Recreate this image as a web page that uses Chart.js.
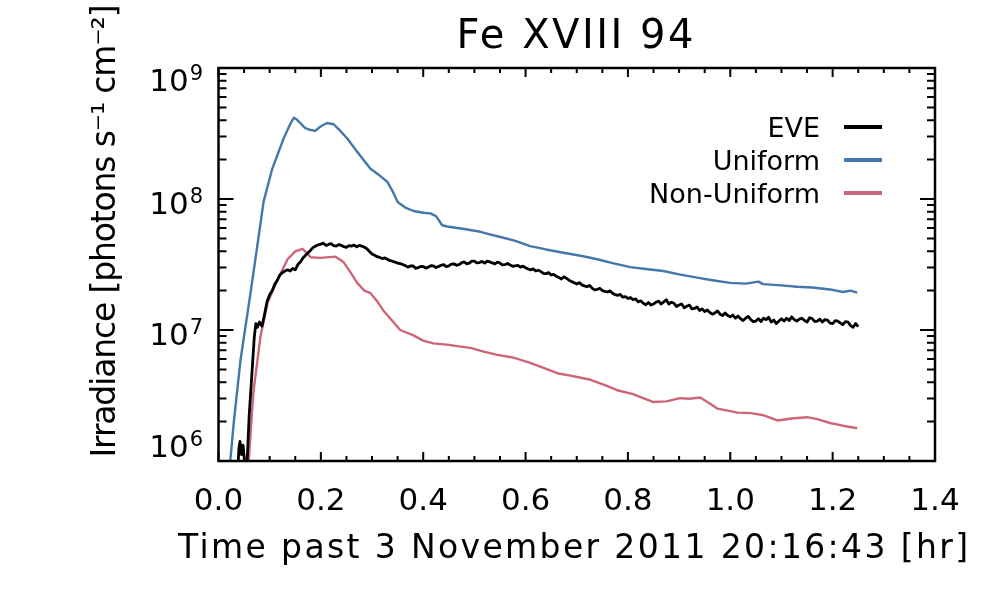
<!DOCTYPE html>
<html><head><meta charset="utf-8">
<script src="https://cdn.jsdelivr.net/npm/chart.js@4.4.1/dist/chart.umd.min.js"></script>
<style>html,body{margin:0;padding:0;background:#fff;}canvas{display:block;}</style>
</head><body>
<canvas id="c" width="1000" height="600"></canvas>
<script>
// ---------- text ----------
const chartTitle = 'Fe XVIII 94';
const xAxisTitle = 'Time past 3 November 2011 20:16:43 [hr]';
const yAxisTitle = 'Irradiance [photons s\u207B\u00B9 cm\u207B\u00B2]';
const seriesNames = ['EVE', 'Uniform', 'Non-Uniform'];
const seriesColors = ['#000000', '#4477AA', '#CC6677'];

// ---------- tick labels ----------
const xTickValues = [0.0, 0.2, 0.4, 0.6, 0.8, 1.0, 1.2, 1.4];
const xTickLabels = ['0.0', '0.2', '0.4', '0.6', '0.8', '1.0', '1.2', '1.4'];
const yTickExponents = [6, 7, 8, 9];
const yTickBase = '10';

// ---------- data (time in hours, irradiance in photons s^-1 cm^-2) ----------
const eveTime = [0.038,0.040,0.042,0.045,0.048,0.052,0.056,0.060,0.065,0.070,0.073,0.076,0.080,0.085,0.090,0.095,0.100,0.105,0.110,0.115,0.120,0.125,0.130,0.135,0.140,0.145,0.150,0.155,0.160,0.165,0.170,0.175,0.180,0.185,0.190,0.195,
 0.200,0.205,0.210,0.215,0.220,0.225,0.230,0.235,0.240,0.245,
 0.250,0.255,0.260,0.265,0.270,0.275,0.280,0.285,0.290,0.295,
 0.300,0.305,0.310,0.315,0.320,0.325,0.330,0.335,0.340,0.345,
 0.350,0.355,0.360,0.365,0.370,0.375,0.380,0.385,0.390,0.395,
 0.400,0.405,0.410,0.415,0.420,0.425,0.430,0.435,0.440,0.445,
 0.450,0.455,0.460,0.465,0.470,0.475,0.480,0.485,0.490,0.495,
 0.500,0.505,0.510,0.515,0.520,0.525,0.530,0.535,0.540,0.545,
 0.550,0.555,0.560,0.565,0.570,0.575,0.580,0.585,0.590,0.595,
 0.600,0.605,0.610,0.615,0.620,0.625,0.630,0.635,0.640,0.645,
 0.650,0.655,0.660,0.665,0.670,0.675,0.680,0.685,0.690,0.695,
 0.700,0.705,0.710,0.715,0.720,0.725,0.730,0.735,0.740,0.745,
 0.750,0.755,0.760,0.765,0.770,0.775,0.780,0.785,0.790,0.795,
 0.800,0.805,0.810,0.815,0.820,0.825,0.830,0.835,0.840,0.845,
 0.850,0.855,0.860,0.865,0.870,0.875,0.880,0.885,0.890,0.895,
 0.900,0.905,0.910,0.915,0.920,0.925,0.930,0.935,0.940,0.945,
 0.950,0.955,0.960,0.965,0.970,0.975,0.980,0.985,0.990,0.995,
 1.000,1.005,1.010,1.015,1.020,1.025,1.030,1.035,1.040,1.045,
 1.050,1.055,1.060,1.065,1.070,1.075,1.080,1.085,1.090,1.095,
 1.100,1.105,1.110,1.115,1.120,1.125,1.130,1.135,1.140,1.145,
 1.150,1.155,1.160,1.165,1.170,1.175,1.180,1.185,1.190,1.195,
 1.200,1.205,1.210,1.215,1.220,1.225,1.230,1.235,1.240,1.245,
 1.250];
const eveIrr = [8.9e5,1.26e6,1.41e6,1.12e6,1.32e6,8.9e5,1.0e6,2.24e6,4.47e6,8.9e6,1.12e7,1.05e7,1.15e7,1.07e7,1.32e7,1.66e7,1.86e7,2.0e7,2.24e7,2.40e7,2.63e7,2.75e7,2.82e7,2.88e7,2.82e7,2.95e7,2.88e7,3.16e7,3.31e7,3.55e7,3.72e7,3.89e7,4.07e7,4.27e7,4.37e7,4.47e7,
 4.52e7,4.60e7,4.42e7,4.50e7,4.57e7,4.40e7,4.37e7,4.48e7,4.42e7,4.33e7,
 4.27e7,4.40e7,4.37e7,4.45e7,4.32e7,4.42e7,4.37e7,4.28e7,4.17e7,3.98e7,
 3.80e7,3.72e7,3.63e7,3.58e7,3.51e7,3.55e7,3.47e7,3.38e7,3.35e7,3.30e7,
 3.24e7,3.21e7,3.16e7,3.10e7,3.02e7,3.08e7,3.09e7,2.96e7,2.99e7,3.06e7,
 3.05e7,2.97e7,3.02e7,3.10e7,3.09e7,3.00e7,3.05e7,3.12e7,3.16e7,3.05e7,
 3.09e7,3.18e7,3.20e7,3.12e7,3.16e7,3.26e7,3.31e7,3.20e7,3.24e7,3.36e7,
 3.35e7,3.25e7,3.27e7,3.34e7,3.24e7,3.36e7,3.31e7,3.25e7,3.20e7,3.30e7,
 3.24e7,3.14e7,3.16e7,3.22e7,3.13e7,3.06e7,3.09e7,3.12e7,3.02e7,3.07e7,
 2.99e7,2.92e7,2.88e7,2.93e7,2.82e7,2.86e7,2.79e7,2.70e7,2.69e7,2.74e7,
 2.63e7,2.66e7,2.57e7,2.52e7,2.45e7,2.55e7,2.48e7,2.40e7,2.34e7,2.29e7,
 2.24e7,2.30e7,2.21e7,2.17e7,2.14e7,2.19e7,2.09e7,2.02e7,2.04e7,2.08e7,
 2.00e7,1.97e7,1.95e7,1.99e7,1.91e7,1.86e7,1.84e7,1.87e7,1.78e7,1.80e7,
 1.74e7,1.77e7,1.70e7,1.73e7,1.64e7,1.67e7,1.60e7,1.56e7,1.62e7,1.55e7,
 1.58e7,1.63e7,1.66e7,1.58e7,1.64e7,1.70e7,1.58e7,1.63e7,1.60e7,1.51e7,
 1.55e7,1.58e7,1.48e7,1.52e7,1.55e7,1.45e7,1.46e7,1.50e7,1.41e7,1.45e7,
 1.38e7,1.42e7,1.36e7,1.32e7,1.35e7,1.40e7,1.32e7,1.29e7,1.35e7,1.29e7,
 1.26e7,1.30e7,1.23e7,1.28e7,1.22e7,1.18e7,1.23e7,1.27e7,1.20e7,1.16e7,
 1.17e7,1.22e7,1.16e7,1.23e7,1.20e7,1.25e7,1.15e7,1.19e7,1.12e7,1.17e7,
 1.22e7,1.17e7,1.23e7,1.18e7,1.26e7,1.20e7,1.17e7,1.21e7,1.23e7,1.18e7,
 1.15e7,1.24e7,1.22e7,1.16e7,1.17e7,1.21e7,1.15e7,1.20e7,1.19e7,1.13e7,
 1.12e7,1.18e7,1.17e7,1.13e7,1.10e7,1.16e7,1.15e7,1.08e7,1.05e7,1.12e7,
 1.06e7];

const uniTime = [0.020,0.023,0.030,0.043,0.0625,0.075,0.088,0.105,0.127,0.140,0.147,0.152,0.160,0.168,0.176,0.189,0.200,0.212,0.225,0.238,0.252,0.271,0.285,0.297,0.315,0.330,0.340,0.350,0.365,0.381,0.400,0.414,0.425,0.437,0.447,0.48,0.512,0.53,0.551,0.58,0.609,0.64,0.674,0.71,0.740,0.77,0.805,0.835,0.869,0.90,0.935,0.965,1.0,1.03,1.055,1.064,1.10,1.13,1.16,1.195,1.22,1.235,1.248];
const uniIrr = [7.1e5,1.0e6,2.0e6,5.9e6,1.91e7,4.17e7,9.5e7,1.70e8,2.88e8,3.72e8,4.17e8,4.07e8,3.80e8,3.51e8,3.39e8,3.31e8,3.59e8,3.80e8,3.72e8,3.31e8,2.88e8,2.29e8,1.95e8,1.70e8,1.51e8,1.35e8,1.15e8,9.5e7,8.6e7,8.1e7,7.85e7,7.76e7,7.4e7,6.3e7,6.17e7,5.9e7,5.62e7,5.37e7,5.13e7,4.79e7,4.37e7,4.12e7,3.89e7,3.67e7,3.47e7,3.24e7,3.02e7,2.92e7,2.82e7,2.66e7,2.51e7,2.40e7,2.29e7,2.26e7,2.34e7,2.24e7,2.19e7,2.14e7,2.11e7,2.04e7,1.95e7,2.0e7,1.93e7];

const nonTime = [0.057,0.059,0.068,0.082,0.096,0.115,0.135,0.150,0.164,0.172,0.180,0.199,0.229,0.244,0.258,0.271,0.285,0.297,0.31,0.322,0.340,0.355,0.381,0.40,0.42,0.45,0.470,0.492,0.52,0.545,0.575,0.609,0.635,0.662,0.69,0.727,0.755,0.779,0.81,0.850,0.875,0.902,0.92,0.941,0.96,0.975,1.0,1.014,1.04,1.064,1.092,1.12,1.150,1.17,1.195,1.22,1.248];
const nonIrr = [7.9e5,1.0e6,3.31e6,8.9e6,1.62e7,2.40e7,3.47e7,3.98e7,4.17e7,3.89e7,3.59e7,3.55e7,3.63e7,3.31e7,2.75e7,2.29e7,2.0e7,1.91e7,1.66e7,1.41e7,1.17e7,1.0e7,9.1e6,8.3e6,7.9e6,7.7e6,7.5e6,7.3e6,6.8e6,6.46e6,6.17e6,5.62e6,5.13e6,4.68e6,4.47e6,4.17e6,3.80e6,3.47e6,3.24e6,2.82e6,2.85e6,3.02e6,2.99e6,3.05e6,2.75e6,2.51e6,2.40e6,2.34e6,2.32e6,2.24e6,2.04e6,2.11e6,2.16e6,2.09e6,1.95e6,1.86e6,1.78e6];

// ---------- build ----------
const FONT = '"DejaVu Sans", "Liberation Sans", sans-serif';
const toPts = (xs, ys) => xs.map((x, i) => ({x: x, y: ys[i]}));
const seriesData = [toPts(eveTime, eveIrr), toPts(uniTime, uniIrr), toPts(nonTime, nonIrr)];
const widths = [2.8, 2.4, 2.4];

function isMajorX(v) { return xTickValues.some(t => Math.abs(t - v) < 1e-6); }
function xLabel(v) { const i = xTickValues.findIndex(t => Math.abs(t - v) < 1e-6); return i >= 0 ? xTickLabels[i] : ''; }

function fitText(ctx, text, x, y, width, font) {
  ctx.font = font;
  ctx.letterSpacing = '0px';
  const w = ctx.measureText(text).width;
  const n = [...text].length;
  let ls = (width - w) / Math.max(1, n - 1);
  ls = Math.max(-3, Math.min(5, ls));
  ctx.letterSpacing = ls + 'px';
  const w2 = ctx.measureText(text).width - ls;
  ctx.textAlign = 'left';
  ctx.fillText(text, x - w2 / 2, y);
  ctx.letterSpacing = '0px';
}

const decor = {
  id: 'decor',
  afterDatasetsDraw(chart) {
    const {ctx, chartArea: a, scales: {x, y}} = chart;
    ctx.save();
    ctx.strokeStyle = '#000';
    ctx.fillStyle = '#000';
    ctx.lineWidth = 2;
    ctx.beginPath();
    x.ticks.forEach(t => {
      const px = x.getPixelForValue(t.value);
      const L = isMajorX(t.value) ? 9 : 5;
      ctx.moveTo(px, a.bottom); ctx.lineTo(px, a.bottom - L);
      ctx.moveTo(px, a.top); ctx.lineTo(px, a.top + L);
    });
    y.ticks.forEach(t => {
      const py = y.getPixelForValue(t.value);
      const L = t.major ? 15 : 8;
      ctx.moveTo(a.left, py); ctx.lineTo(a.left + L, py);
      ctx.moveTo(a.right, py); ctx.lineTo(a.right - L, py);
    });
    ctx.stroke();
    ctx.lineWidth = 2.5;
    ctx.strokeRect(a.left, a.top, a.right - a.left, a.bottom - a.top);

    // y tick labels (10^n)
    ctx.textBaseline = 'alphabetic';
    yTickExponents.forEach(e => {
      const py = y.getPixelForValue(Math.pow(10, e));
      let base = py + 15;
      base = Math.max(a.top + 23, Math.min(a.bottom - 4, base));
      ctx.font = '21px ' + FONT;
      ctx.textAlign = 'right';
      const supRight = 203;
      ctx.fillText(String(e), supRight, base - 11);
      const sw = ctx.measureText(String(e)).width;
      ctx.font = '31px ' + FONT;
      ctx.fillText(yTickBase, supRight - sw - 1, base);
    });

    // titles
    fitText(ctx, chartTitle, 575, 48, 237, '40px ' + FONT);
    fitText(ctx, xAxisTitle, 573, 558, 790, '33px ' + FONT);
    ctx.save();
    ctx.translate(115, 231);
    ctx.rotate(-Math.PI / 2);
    fitText(ctx, yAxisTitle, 0, 0, 453, '33px ' + FONT);
    ctx.restore();

    // legend
    const legY = [127, 160, 193];
    chart.data.datasets.forEach((ds, i) => {
      ctx.font = '27px ' + FONT;
      ctx.textAlign = 'right';
      ctx.fillStyle = '#000';
      ctx.fillText(ds.label, 820, legY[i] + 10);
      ctx.strokeStyle = ds.borderColor;
      ctx.lineWidth = 4;
      ctx.beginPath();
      ctx.moveTo(844, legY[i]); ctx.lineTo(882, legY[i]);
      ctx.stroke();
    });
    ctx.restore();
  }
};

new Chart(document.getElementById('c'), {
  type: 'line',
  data: {
    datasets: seriesNames.map((name, i) => ({
      label: name,
      data: seriesData[i],
      borderColor: seriesColors[i],
      backgroundColor: seriesColors[i],
      borderWidth: widths[i],
      borderJoinStyle: 'round',
      pointRadius: 0,
      tension: 0,
      fill: false
    }))
  },
  options: {
    responsive: false,
    animation: false,
    devicePixelRatio: 1,
    layout: {padding: {left: 0, right: 65, top: 68, bottom: 0}},
    plugins: {legend: {display: false}, title: {display: false}, tooltip: {enabled: false}},
    scales: {
      x: {
        type: 'linear', min: 0, max: 1.4,
        grid: {display: false, drawTicks: false},
        border: {display: false},
        ticks: {
          stepSize: 0.05, autoSkip: false, maxRotation: 0, minRotation: 0,
          padding: 22, color: '#000', font: {family: FONT, size: 31},
          callback: (v) => xLabel(v)
        },
        afterFit: (s) => { s.height = 139; }
      },
      y: {
        type: 'logarithmic', min: 1e6, max: 1e9,
        grid: {display: false, drawTicks: false},
        border: {display: false},
        ticks: {display: false},
        afterBuildTicks: (s) => {
          const t = [];
          for (let e = yTickExponents[0]; e <= yTickExponents[yTickExponents.length - 1]; e++) {
            for (let m = 1; m <= 9; m++) {
              const v = m * Math.pow(10, e);
              if (v <= 1e9 * 1.0001) t.push({value: v, major: m === 1});
            }
          }
          s.ticks = t;
        },
        afterFit: (s) => { s.width = 218.5; }
      }
    }
  },
  plugins: [decor]
});
</script>
</body></html>
